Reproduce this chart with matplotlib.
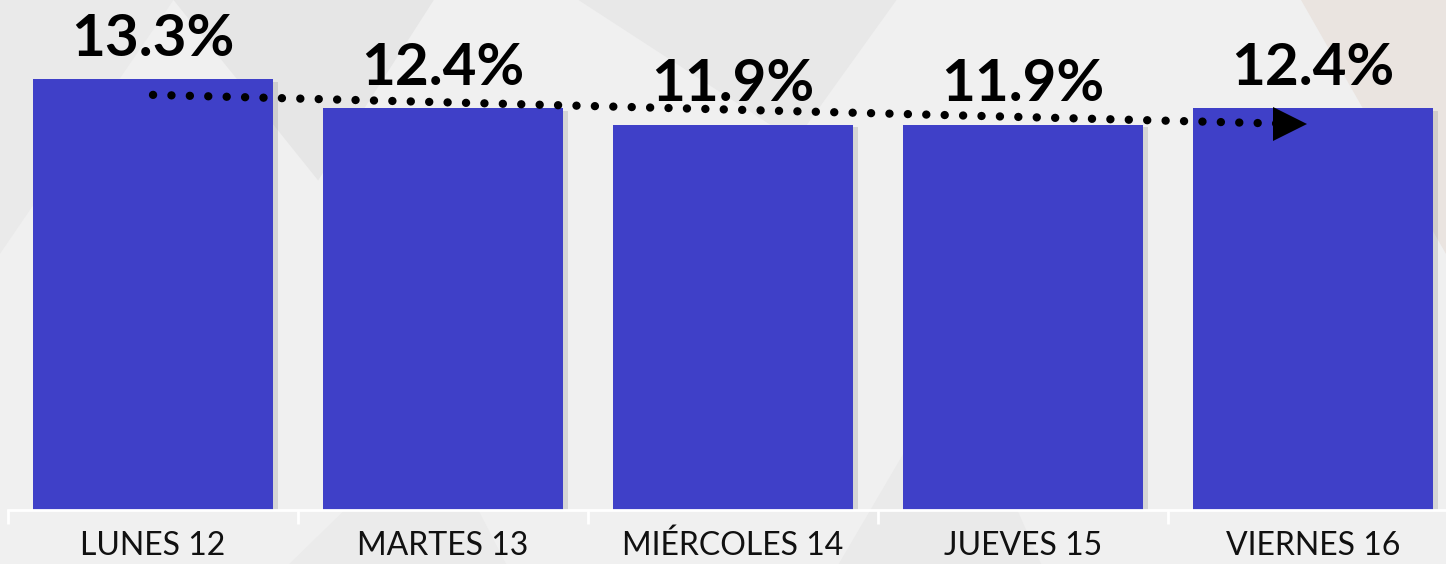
import matplotlib.pyplot as plt
import matplotlib.patheffects as pe
import numpy as np

days = ['LUNES 12', 'MARTES 13', 'MIÉRCOLES 14', 'JUEVES 15', 'VIERNES 16']
values = [13.3, 12.4, 11.9, 11.9, 12.4]
labels = ['13.3%', '12.4%', '11.9%', '11.9%', '12.4%']

# trend arrow (data coords)
trend_x = [0.0, 3.9]
trend_y = [12.82, 11.93]

bar_color = '#3F40C8'
bg_color = '#F0F0F0'


def main():
    fig = plt.figure(figsize=(14.46, 5.64), dpi=100)
    fig.patch.set_facecolor(bg_color)

    # subtle background triangles
    bg = fig.add_axes([0, 0, 1, 1], zorder=-1)
    bg.set_xlim(0, 1)
    bg.set_ylim(0, 1)
    bg.axis('off')
    tris = [
        ([0.12, 0.30, 0.22], [1.0, 1.0, 0.68], '#E6E6E6'),
        ([0.0, 0.12, 0.0], [1.0, 1.0, 0.55], '#EAEAEA'),
        ([0.40, 0.62, 0.55], [1.0, 1.0, 0.75], '#E8E8E8'),
        ([0.58, 0.72, 0.66], [0.0, 0.0, 0.35], '#EAEAEA'),
        ([0.20, 0.35, 0.30], [0.0, 0.0, 0.25], '#EBEBEB'),
        ([0.90, 1.0, 1.0], [1.0, 1.0, 0.55], '#EAE4E0'),
    ]
    for xs, ys, c in tris:
        bg.fill(xs, ys, color=c, lw=0)

    ax = fig.add_axes([8 / 1446, 54 / 564, 1450 / 1446, 510 / 564])
    ax.patch.set_alpha(0)

    x = np.arange(len(days))
    bars = ax.bar(x, values, width=0.83, color=bar_color, zorder=2)
    for b in bars:
        b.set_path_effects([pe.SimplePatchShadow(offset=(3, -2), shadow_rgbFace='#888888', alpha=0.25),
                            pe.Normal()])

    for xi, v, t in zip(x, values, labels):
        ax.text(xi, v + 0.42, t, ha='center', va='bottom', fontsize=42,
                fontweight='bold', family=['Lato', 'DejaVu Sans'], color='black', zorder=4)

    # dotted trend arrow
    ax.plot(trend_x, trend_y, color='black', lw=6, linestyle=(0, (0.01, 2.2)),
            dash_capstyle='round', zorder=3)
    ax.plot([trend_x[1] + 0.02], [trend_y[1]], marker='>', markersize=24,
            color='black', markeredgewidth=0, zorder=3)

    ax.set_xlim(-0.5, 4.5)
    ax.set_ylim(0, 15.75)
    for s in ['top', 'right', 'left']:
        ax.spines[s].set_visible(False)
    ax.spines['bottom'].set_color('white')
    ax.spines['bottom'].set_linewidth(2)
    ax.set_yticks([])
    ax.set_xticks(x)
    ax.set_xticklabels(days, fontsize=23, fontweight='normal',
                       family=['Lato', 'DejaVu Sans'], color='#111111')
    ax.tick_params(axis='x', which='major', length=0, pad=15)
    ax.set_xticks(np.arange(-0.5, 5.0, 1.0), minor=True)
    ax.tick_params(axis='x', which='minor', length=10, width=2, color='white')

    fig.savefig('out.png', dpi=100, facecolor=fig.get_facecolor())


if __name__ == '__main__':
    main()
